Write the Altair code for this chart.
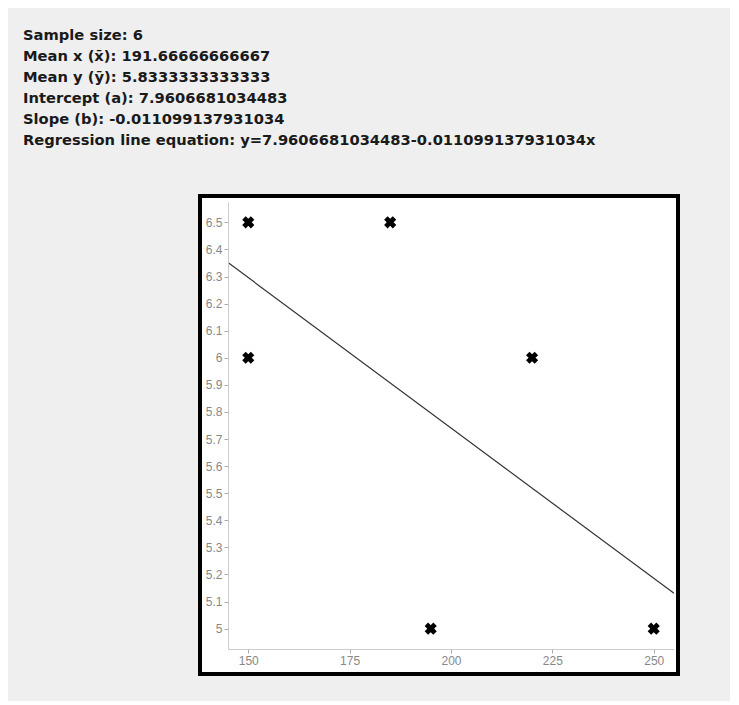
import altair as alt
import pandas as pd

# data
xs = [150, 150, 185, 195, 220, 250]
ys = [6.5, 6.0, 6.5, 5.0, 6.0, 5.0]
x_ticks = [150, 175, 200, 225, 250]
y_ticks = [5.0, 5.1, 5.2, 5.3, 5.4, 5.5, 5.6, 5.7, 5.8, 5.9, 6.0, 6.1, 6.2, 6.3, 6.4, 6.5]
x_domain = [145, 255]
y_domain = [4.925, 6.575]
info_lines = [
    "Sample size: 6",
    "Mean x (x\u0304): 191.66666666667",
    "Mean y (y\u0304): 5.8333333333333",
    "Intercept (a): 7.9606681034483",
    "Slope (b): -0.011099137931034",
    "Regression line equation: y=7.9606681034483-0.011099137931034x",
]

df = pd.DataFrame({"x": xs, "y": ys})

W, H = 446, 447

xscale = alt.Scale(domain=x_domain, nice=False, zero=False)
yscale = alt.Scale(domain=y_domain, nice=False, zero=False)

axis_style = dict(
    title=None, grid=False, zindex=1, labelColor="#888888", labelFont="Liberation Sans",
    labelFontSize=12, domainColor="#cccccc", tickColor="#aaaaaa", tickSize=4, labelPadding=2,
)
xaxis = alt.Axis(values=x_ticks, format="d", **axis_style)
yaxis = alt.Axis(values=y_ticks, format="~f", **axis_style)

frame = alt.Chart(pd.DataFrame({"a": [0]})).mark_rect(
    fill="white", stroke="black", strokeWidth=4
).encode(
    x=alt.value(-28), x2=alt.value(450), y=alt.value(-6), y2=alt.value(472)
)

text = alt.Chart(pd.DataFrame({"t": ["\n".join(info_lines)]})).mark_text(
    align="left", baseline="top", lineBreak="\n", font="DejaVu Sans",
    fontSize=14.7, fontWeight="bold", color="#1a1a1a", lineHeight=21
).encode(
    text="t:N", x=alt.value(-205), y=alt.value(-174)
)

line = alt.Chart(df).transform_regression(
    "x", "y", method="linear", extent=x_domain
).mark_line(color="#333333", strokeWidth=1.2, clip=True).encode(
    x=alt.X("x:Q", scale=xscale, axis=xaxis),
    y=alt.Y("y:Q", scale=yscale, axis=yaxis),
)

points = alt.Chart(df).mark_point(
    shape="cross", angle=45, filled=True, color="black", size=150, opacity=1
).encode(
    x=alt.X("x:Q", scale=xscale, axis=xaxis),
    y=alt.Y("y:Q", scale=yscale, axis=yaxis),
)

chart = alt.layer(frame, text, line, points).properties(
    width=W, height=H,
    autosize=alt.AutoSizeParams(type="none"),
    padding={"left": 220, "top": 194, "right": 56, "bottom": 52},
    background="#efefef",
).configure_view(stroke=None)

chart.save("out.html", embed_options={"renderer": "svg", "actions": False})
